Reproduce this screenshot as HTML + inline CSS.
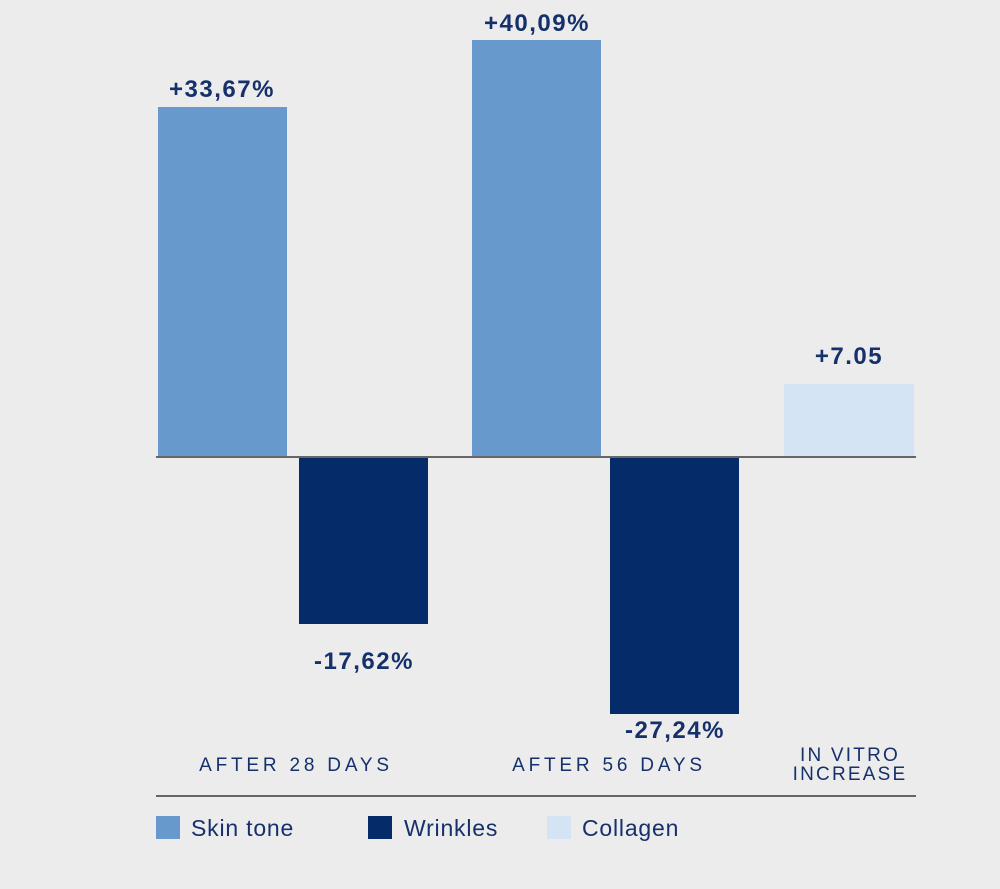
<!DOCTYPE html>
<html><head><meta charset="utf-8"><style>
html,body{margin:0;padding:0;}
body{width:1000px;height:889px;background:#ececec;position:relative;overflow:hidden;font-family:"Liberation Sans",Arial,sans-serif;}
.b{position:absolute;}
.v{position:absolute;font-weight:bold;font-size:24px;letter-spacing:1.5px;color:#15306b;text-align:center;width:200px;line-height:1;}
.c{position:absolute;font-size:19px;color:#15306b;letter-spacing:3.8px;text-align:center;width:300px;line-height:1;}
.l{position:absolute;font-size:23px;letter-spacing:0.8px;color:#15306b;line-height:1;}
.s{position:absolute;width:24px;height:23px;top:816px;}
</style></head><body>
<div class="b" style="left:158px;top:107px;width:129px;height:350px;background:#6899cc"></div>
<div class="b" style="left:299px;top:458px;width:129px;height:166px;background:#052b69"></div>
<div class="b" style="left:472px;top:40px;width:129px;height:417px;background:#6899cc"></div>
<div class="b" style="left:610px;top:458px;width:129px;height:256px;background:#052b69"></div>
<div class="b" style="left:784px;top:384px;width:130px;height:73px;background:#d4e4f4"></div>
<div class="b" style="left:156px;top:456px;width:760px;height:2px;background:#666"></div>
<div class="b" style="left:156px;top:795px;width:760px;height:2px;background:#666"></div>
<div class="v" style="left:122px;top:78px">+33,67%</div>
<div class="v" style="left:437px;top:12px">+40,09%</div>
<div class="v" style="left:264px;top:650px">-17,62%</div>
<div class="v" style="left:575px;top:719px">-27,24%</div>
<div class="v" style="left:749px;top:345px">+7.05</div>
<div class="c" style="left:146px;top:756px">AFTER 28 DAYS</div>
<div class="c" style="left:459px;top:756px">AFTER 56 DAYS</div>
<div class="c" style="left:700px;top:746px;letter-spacing:2.2px;line-height:19px">IN VITRO<br>INCREASE</div>
<div class="s" style="left:156px;background:#6899cc"></div>
<div class="l" style="left:191px;top:817px">Skin tone</div>
<div class="s" style="left:368px;background:#052b69"></div>
<div class="l" style="left:404px;top:817px">Wrinkles</div>
<div class="s" style="left:547px;background:#d4e4f4"></div>
<div class="l" style="left:582px;top:817px">Collagen</div>
</body></html>
